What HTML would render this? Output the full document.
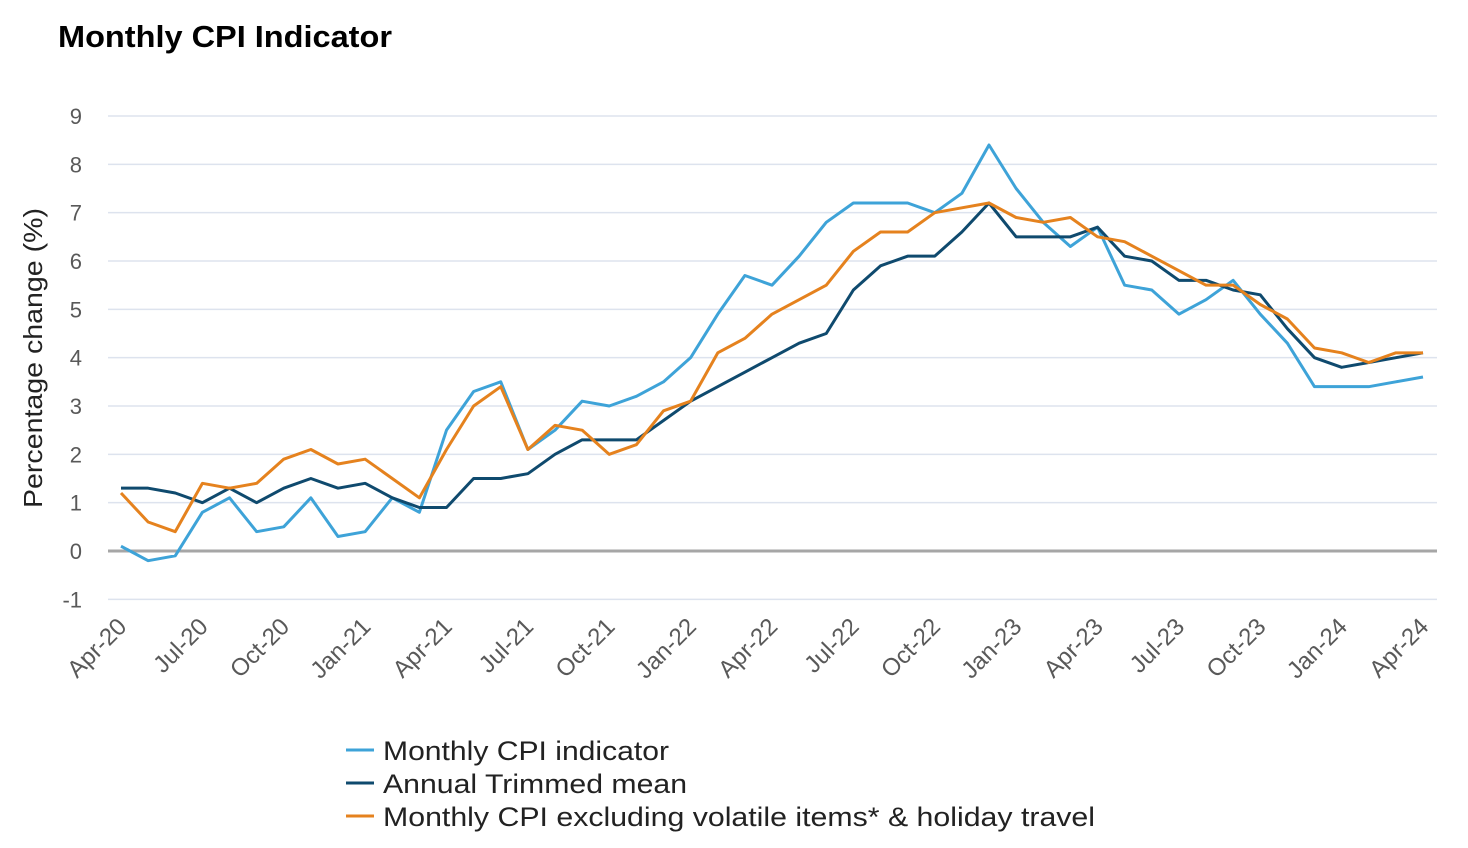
<!DOCTYPE html>
<html><head><meta charset="utf-8"><style>
body{margin:0;background:#fff;width:1468px;height:843px;overflow:hidden;font-family:"Liberation Sans",sans-serif}
</style></head><body>
<svg id="chart" width="1468" height="843" xmlns="http://www.w3.org/2000/svg">
<text x="58" y="47" font-size="31" font-weight="bold" fill="#000" textLength="334" lengthAdjust="spacingAndGlyphs">Monthly CPI Indicator</text>
<text transform="translate(42,358) rotate(-90)" text-anchor="middle" font-size="26" fill="#222" textLength="300" lengthAdjust="spacingAndGlyphs">Percentage change (%)</text>
<g id="grid"></g><g id="series"></g><g id="xlabels"></g><g id="legend"></g>
</svg>
<script>
const months=["Apr-20","Jul-20","Oct-20","Jan-21","Apr-21","Jul-21","Oct-21","Jan-22","Apr-22","Jul-22","Oct-22","Jan-23","Apr-23","Jul-23","Oct-23","Jan-24","Apr-24"];
const yTicks=[-1,0,1,2,3,4,5,6,7,8,9];
const cpi=[0.1,-0.2,-0.1,0.8,1.1,0.4,0.5,1.1,0.3,0.4,1.1,0.8,2.5,3.3,3.5,2.1,2.5,3.1,3.0,3.2,3.5,4.0,4.9,5.7,5.5,6.1,6.8,7.2,7.2,7.2,7.0,7.4,8.4,7.5,6.8,6.3,6.7,5.5,5.4,4.9,5.2,5.6,4.9,4.3,3.4,3.4,3.4,3.5,3.6];
const trimmed=[1.3,1.3,1.2,1.0,1.3,1.0,1.3,1.5,1.3,1.4,1.1,0.9,0.9,1.5,1.5,1.6,2.0,2.3,2.3,2.3,2.7,3.1,3.4,3.7,4.0,4.3,4.5,5.4,5.9,6.1,6.1,6.6,7.2,6.5,6.5,6.5,6.7,6.1,6.0,5.6,5.6,5.4,5.3,4.6,4.0,3.8,3.9,4.0,4.1];
const excl=[1.2,0.6,0.4,1.4,1.3,1.4,1.9,2.1,1.8,1.9,1.5,1.1,2.1,3.0,3.4,2.1,2.6,2.5,2.0,2.2,2.9,3.1,4.1,4.4,4.9,5.2,5.5,6.2,6.6,6.6,7.0,7.1,7.2,6.9,6.8,6.9,6.5,6.4,6.1,5.8,5.5,5.5,5.1,4.8,4.2,4.1,3.9,4.1,4.1];
const seriesNames=["Monthly CPI indicator","Annual Trimmed mean","Monthly CPI excluding volatile items* & holiday travel"];
const legendWidths=[286,304,712];
const NS="http://www.w3.org/2000/svg";
const X=i=>121+i*(1423-121)/48;
const Y=v=>551-v*(551-116)/9;
function mk(t,a,p){const e=document.createElementNS(NS,t);for(const k in a)e.setAttribute(k,a[k]);p.appendChild(e);return e;}
const grid=document.getElementById('grid');
yTicks.forEach(v=>{
 const l=mk('line',{x1:108,x2:1437,y1:Y(v),y2:Y(v),stroke:v===0?'#a6a6a6':'#dde3ee','stroke-width':v===0?3:1.5},grid);
 
 
 const t=mk('text',{x:82,y:Y(v)+8,'text-anchor':'end','font-size':22,fill:'#595959'},grid);
 t.textContent=v;
 
 
});
const xl=document.getElementById('xlabels');
months.forEach((m,k)=>{
 const x=X(k*3);
 const t=mk('text',{transform:`translate(${x+7},${628}) rotate(-45)`,'text-anchor':'end','font-size':24,fill:'#595959'},xl);
 t.textContent=m;
 
 
});
const colors=['#3ea3d8','#0f4a6e','#e5821e'];
const sg=document.getElementById('series');
[cpi,trimmed,excl].forEach((d,s)=>{
 const p=mk('polyline',{points:d.map((v,i)=>X(i)+','+Y(v)).join(' '),fill:'none',stroke:colors[s],'stroke-width':3,'stroke-linejoin':'round'},sg);
 
 
});
const lg=document.getElementById('legend');
seriesNames.forEach((n,s)=>{
 const y=750+s*33;
 const l=mk('line',{x1:346,x2:374,y1:y,y2:y,stroke:colors[s],'stroke-width':3},lg);
 
 
 const t=mk('text',{x:383,y:y+10,'font-size':27,fill:'#222',textLength:legendWidths[s],lengthAdjust:'spacingAndGlyphs'},lg);
 t.textContent=n;
 
 
});
</script>
</body></html>
